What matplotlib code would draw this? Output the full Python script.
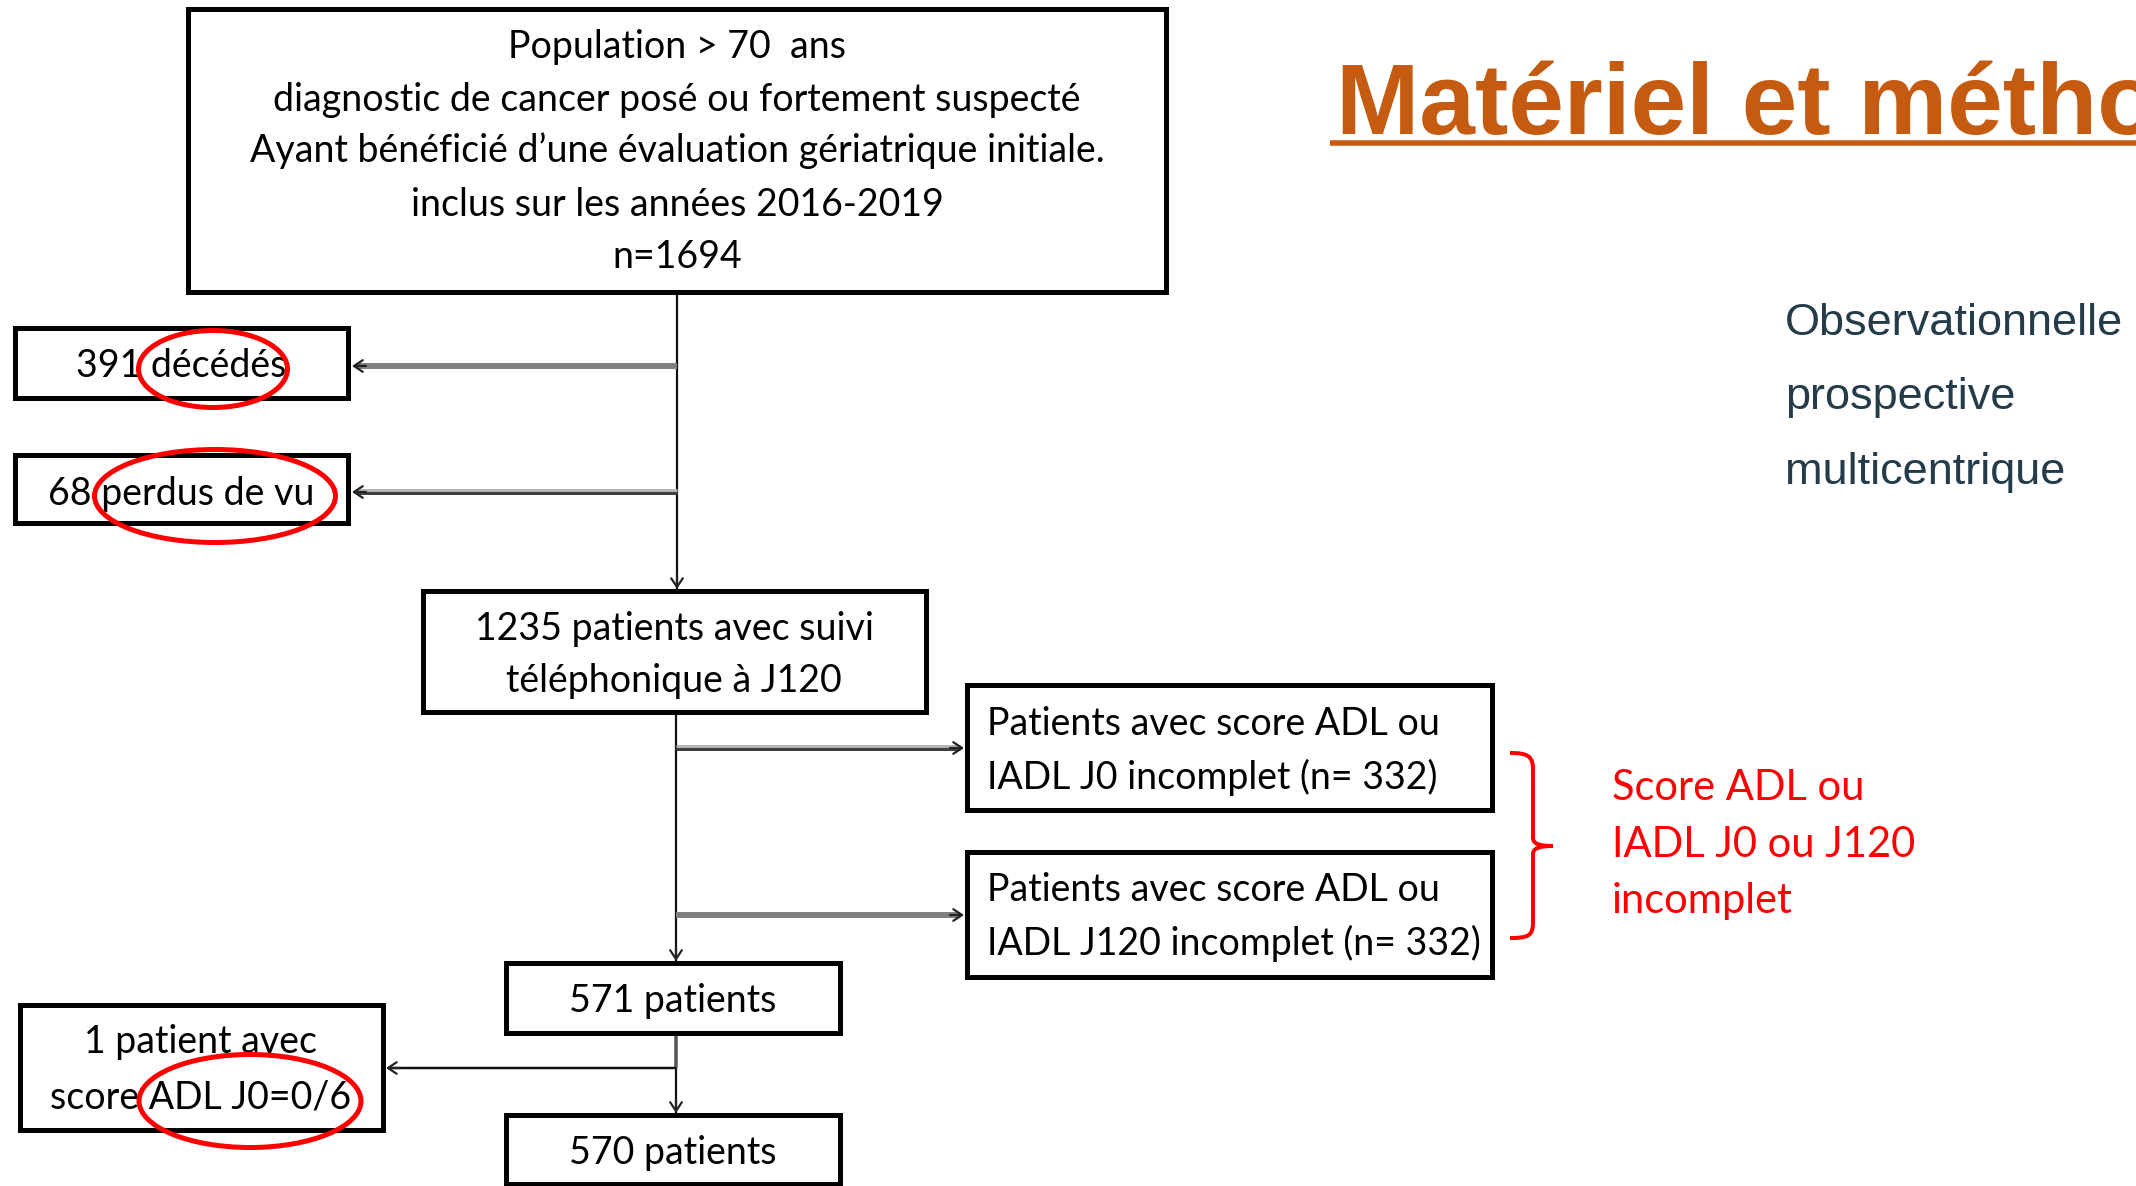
import matplotlib
matplotlib.use("Agg")
import matplotlib.pyplot as plt
from matplotlib.patches import Rectangle, Ellipse
from matplotlib.path import Path
from matplotlib.patches import PathPatch

# ---------------- data ----------------
n_total = 1694
n_deces = 391
n_perdus = 68
n_suivi = 1235
n_adl_j0 = 332
n_adl_j120 = 332
n_retenus = 571
n_exclu_adl = 1
n_final = 570

title_text = "Matériel et méthodes"
design_lines = ["Observationnelle", "prospective", "multicentrique"]
brace_lines = ["Score ADL ou", "IADL J0 ou J120", "incomplet"]

top_lines = ["Population > 70  ans",
             "diagnostic de cancer posé ou fortement suspecté",
             "Ayant bénéficié d\u2019une évaluation gériatrique initiale.",
             "inclus sur les années 2016-2019",
             f"n={n_total}"]
deces_lines = [f"{n_deces} décédés"]
perdus_lines = [f"{n_perdus} perdus de vu"]
suivi_lines = [f"{n_suivi} patients avec suivi", "téléphonique à J120"]
j0_lines = ["Patients avec score ADL ou", f"IADL J0 incomplet (n= {n_adl_j0})"]
j120_lines = ["Patients avec score ADL ou", f"IADL J120 incomplet (n= {n_adl_j120})"]
retenus_lines = [f"{n_retenus} patients"]
exclu_lines = [f"{n_exclu_adl} patient avec", "score ADL J0=0/6"]
final_lines = [f"{n_final} patients"]

# ---------------- figure ----------------
W, H = 2136, 1186
fig = plt.figure(figsize=(W / 100, H / 100), dpi=100)
ax = fig.add_axes([0, 0, 1, 1])
ax.set_xlim(0, W)
ax.set_ylim(H, 0)
ax.axis("off")

PX = 0.72  # points per pixel at dpi 100
BOX_FONT = ["Lato", "DejaVu Sans"]
BOX_SIZE = 27
BORDER = 5 * PX


def box(x0, y0, x1, y1):
    ax.add_patch(Rectangle((x0, y0), x1 - x0, y1 - y0, fill=False,
                           edgecolor="black", linewidth=BORDER, zorder=3,
                           joinstyle="miter"))


def lines_text(lines, x, baselines, ha="center"):
    for s, yb in zip(lines, baselines):
        ax.text(x, yb, s, ha=ha, va="baseline", family=BOX_FONT,
                fontsize=BOX_SIZE, color="black", zorder=4)


def hline(x0, x1, y, color, lw_px, z=2):
    ax.plot([x0, x1], [y, y], color=color, linewidth=lw_px * PX,
            solid_capstyle="butt", zorder=z)


def vline(x, y0, y1, color, lw_px, z=2):
    ax.plot([x, x], [y0, y1], color=color, linewidth=lw_px * PX,
            solid_capstyle="butt", zorder=z)


def head(x_from, y_from, x_to, y_to):
    ax.annotate("", xy=(x_to, y_to), xytext=(x_from, y_from),
                arrowprops=dict(arrowstyle="->,head_length=0.45,head_width=0.3",
                                color="#222222", lw=2.2 * PX,
                                shrinkA=0, shrinkB=0, mutation_scale=14),
                zorder=5)


# boxes
box(188, 9, 1166, 292)
box(15, 328, 348, 398)
box(15, 455, 348, 523)
box(423, 591, 926, 712)
box(967, 685, 1492, 810)
box(967, 852, 1492, 977)
box(506, 963, 840, 1033)
box(20, 1005, 383, 1130)
box(506, 1115, 840, 1184)

# texts in boxes
lines_text(top_lines, 677, [58, 111, 162, 216, 268])
lines_text(deces_lines, 181, [377])
lines_text(perdus_lines, 181, [505])
lines_text(suivi_lines, 674, [640, 692])
lines_text(j0_lines, 987, [735, 789], ha="left")
lines_text(j120_lines, 987, [901, 955], ha="left")
lines_text(retenus_lines, 673, [1012])
lines_text(exclu_lines, 201, [1053, 1108])
lines_text(final_lines, 673, [1164])

# connectors
vline(677, 294, 589, "#111111", 2.2)
head(677, 575, 677, 589)
vline(676, 714, 961, "#111111", 2.2)
head(676, 947, 676, 961)
vline(676, 1035, 1068, "#555555", 3.5)
vline(676, 1068, 1113, "#111111", 2.2)
head(676, 1099, 676, 1113)

# side arrows
hline(677, 356, 366, "#808080", 6)
head(366, 366, 352, 366)
hline(677, 356, 490, "#b4b4b4", 3)
hline(677, 356, 493, "#404040", 3)
head(366, 492, 352, 492)
hline(676, 960, 746, "#b4b4b4", 3)
hline(676, 960, 749, "#404040", 3)
head(950, 748, 964, 748)
hline(676, 960, 915, "#808080", 6)
head(950, 915, 964, 915)
hline(676, 392, 1068, "#111111", 2.5)
head(400, 1068, 386, 1068)

# red ellipses
for (cx, cy, w, h) in [(213, 369, 149, 77), (215, 496, 241, 93), (250, 1101, 222, 93)]:
    ax.add_patch(Ellipse((cx, cy), w, h, fill=False, edgecolor="#ff0000",
                         linewidth=5 * PX, zorder=6))

# red brace
verts = [(1510, 753), (1528, 753), (1533, 756), (1533, 770),
         (1533, 838), (1533, 844), (1540, 846), (1553, 846),
         (1540, 846), (1533, 848), (1533, 854),
         (1533, 922), (1533, 936), (1528, 938), (1510, 938)]
codes = [Path.MOVETO, Path.CURVE4, Path.CURVE4, Path.CURVE4,
         Path.LINETO, Path.CURVE4, Path.CURVE4, Path.CURVE4,
         Path.CURVE4, Path.CURVE4, Path.CURVE4,
         Path.LINETO, Path.CURVE4, Path.CURVE4, Path.CURVE4]
ax.add_patch(PathPatch(Path(verts, codes), fill=False, edgecolor="#ff0000",
                       linewidth=4 * PX, zorder=3, capstyle="butt"))

for s, yb in zip(brace_lines, [800, 857, 913]):
    ax.text(1612, yb, s, ha="left", va="baseline", family=BOX_FONT,
            fontsize=30, color="#ff0000")

# title (cut by the right edge, as in the original slide)
ax.text(1336, 134, title_text, ha="left", va="baseline",
        family=["Liberation Sans", "DejaVu Sans"], fontweight="bold",
        fontsize=72, color="#c55a11", clip_on=False)
hline(1330, W, 143, "#c55a11", 5.5)

# study design
for s, yb in zip(design_lines, [335, 409, 484]):
    ax.text(1785, yb, s, ha="left", va="baseline",
            family=["Liberation Sans", "DejaVu Sans"], fontsize=32.5,
            color="#243b4a")

fig.savefig("out.png", dpi=100, facecolor="white")
